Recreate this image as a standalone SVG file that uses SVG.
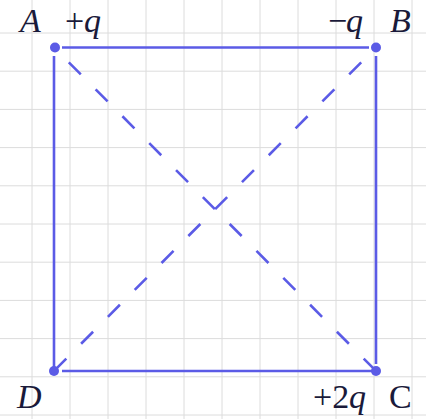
<svg xmlns="http://www.w3.org/2000/svg" width="426" height="419" viewBox="0 0 426 419">
<style>
.grid line{stroke:#dcdcdc;stroke-width:1}
.edge{stroke:#5b5be6;stroke-width:2.6;fill:none;stroke-linecap:butt}
.dash{stroke:#5b5be6;stroke-width:2.6;fill:none;stroke-dasharray:17 21;stroke-dashoffset:17}
.pt{fill:#5b5be6}
.lbl{font-family:"Liberation Serif","DejaVu Serif",serif;font-size:34px;fill:#1a1a3a}
.it{font-style:italic}
</style>
<rect width="426" height="419" fill="#ffffff"/>
<g class="grid">
<line x1="32" y1="0" x2="32" y2="419"/><line x1="70" y1="0" x2="70" y2="419"/><line x1="108" y1="0" x2="108" y2="419"/><line x1="146" y1="0" x2="146" y2="419"/><line x1="184" y1="0" x2="184" y2="419"/><line x1="222" y1="0" x2="222" y2="419"/><line x1="260" y1="0" x2="260" y2="419"/><line x1="298" y1="0" x2="298" y2="419"/><line x1="336" y1="0" x2="336" y2="419"/><line x1="374" y1="0" x2="374" y2="419"/><line x1="412" y1="0" x2="412" y2="419"/>
<line x1="0" y1="33" x2="426" y2="33"/><line x1="0" y1="71.2" x2="426" y2="71.2"/><line x1="0" y1="109.4" x2="426" y2="109.4"/><line x1="0" y1="147.6" x2="426" y2="147.6"/><line x1="0" y1="185.8" x2="426" y2="185.8"/><line x1="0" y1="224" x2="426" y2="224"/><line x1="0" y1="262.2" x2="426" y2="262.2"/><line x1="0" y1="300.4" x2="426" y2="300.4"/><line x1="0" y1="338.6" x2="426" y2="338.6"/><line x1="0" y1="376.8" x2="426" y2="376.8"/><line x1="0" y1="415" x2="426" y2="415"/>
</g>
<g id="connectors">
<line class="edge" x1="62" y1="47.5" x2="369" y2="47.5"/>
<line class="edge" x1="54" y1="56" x2="54" y2="371"/>
<line class="edge" x1="376" y1="56" x2="376" y2="364"/>
<line class="edge" x1="62" y1="371" x2="376" y2="371"/>
<line class="dash" x1="54" y1="47.5" x2="376" y2="371"/>
<line class="dash" x1="376" y1="47.5" x2="54" y2="371"/>
</g>
<g id="A"><circle class="pt" cx="55" cy="47.5" r="5"/><text class="lbl it" x="20" y="32">A</text><text class="lbl" x="65" y="32">+<tspan class="it" x="84">q</tspan></text></g>
<g id="B"><circle class="pt" cx="376" cy="47.5" r="5"/><text class="lbl" x="328" y="32">−<tspan class="it" x="346">q</tspan></text><text class="lbl it" x="390" y="32">B</text></g>
<g id="C"><circle class="pt" cx="376" cy="371" r="5"/><text class="lbl" x="313" y="408">+2<tspan class="it" x="349">q</tspan></text><text class="lbl" x="389" y="408">C</text></g>
<g id="D"><circle class="pt" cx="54" cy="371" r="5"/><text class="lbl it" x="17" y="408">D</text></g>
</svg>
